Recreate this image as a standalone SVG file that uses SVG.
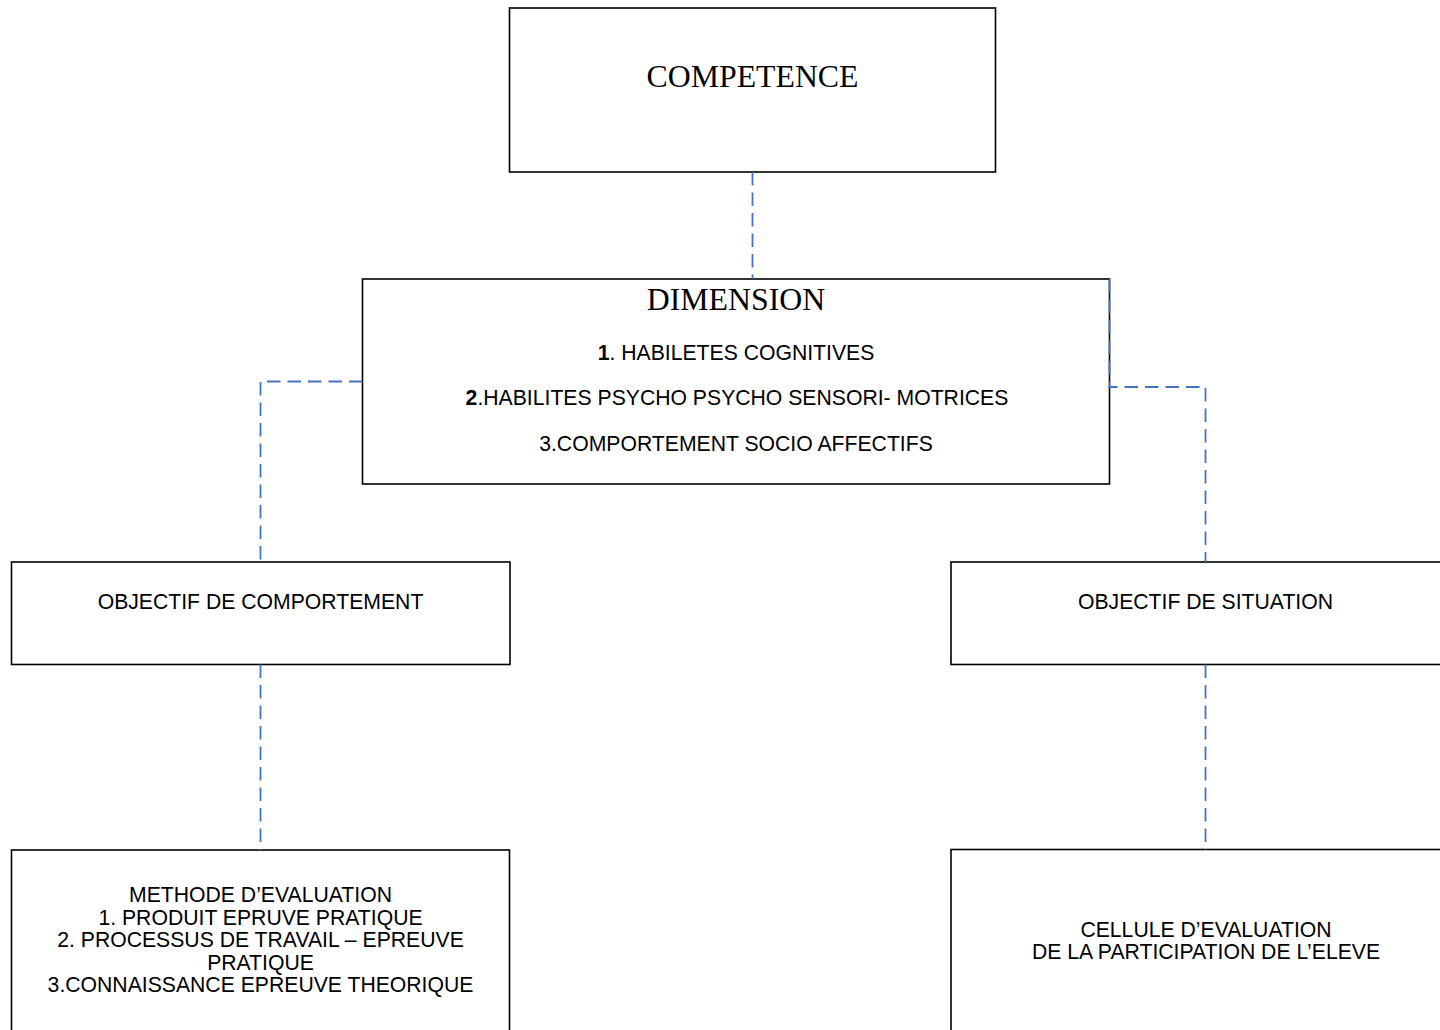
<svg xmlns="http://www.w3.org/2000/svg" width="1440" height="1030" viewBox="0 0 1440 1030">
<style>
.box{fill:#fff;stroke:#000;stroke-width:1.6}
.serif{font-family:"Liberation Serif","Times New Roman",serif;font-size:31.8px;fill:#000;text-anchor:middle}
.sans{font-family:"Liberation Sans",Arial,sans-serif;font-size:21.2px;fill:#000;text-anchor:middle}
.conn{fill:none;stroke:#4472C4;stroke-width:1.8;stroke-dasharray:13.5 7}
</style>
<rect width="1440" height="1030" fill="#fff"/>
<g id="n-competence">
<rect class="box" x="509.5" y="8" width="486" height="164"/>
<text class="serif" x="752.5" y="87">COMPETENCE</text>
</g>
<g id="n-dimension">
<rect class="box" x="362.5" y="279" width="747" height="205"/>
<text class="serif" x="736" y="309.5">DIMENSION</text>
<text class="sans" x="736" y="360"><tspan font-weight="bold">1</tspan>. HABILETES COGNITIVES</text>
<text class="sans" x="737" y="405"><tspan font-weight="bold">2</tspan>.HABILITES PSYCHO PSYCHO SENSORI- MOTRICES</text>
<text class="sans" x="736" y="451">3.COMPORTEMENT SOCIO AFFECTIFS</text>
</g>
<g id="n-obj-comportement">
<rect class="box" x="11.5" y="562" width="498.5" height="102.5"/>
<text class="sans" x="260.5" y="609">OBJECTIF DE COMPORTEMENT</text>
</g>
<g id="n-obj-situation">
<rect class="box" x="951" y="562" width="500" height="102.5"/>
<text class="sans" x="1205.5" y="608.5">OBJECTIF DE SITUATION</text>
</g>
<g id="n-methode">
<rect class="box" x="11.5" y="850" width="498" height="200"/>
<text class="sans" x="260.5" y="902">METHODE D’EVALUATION</text>
<text class="sans" x="260.5" y="924.5">1. PRODUIT EPRUVE PRATIQUE</text>
<text class="sans" x="260.5" y="947">2. PROCESSUS DE TRAVAIL – EPREUVE</text>
<text class="sans" x="260.5" y="969.5">PRATIQUE</text>
<text class="sans" x="260.5" y="992">3.CONNAISSANCE EPREUVE THEORIQUE</text>
</g>
<g id="n-cellule">
<rect class="box" x="951" y="849.5" width="500" height="200"/>
<text class="sans" x="1206" y="936.5">CELLULE D’EVALUATION</text>
<text class="sans" x="1206" y="959">DE LA PARTICIPATION DE L’ELEVE</text>
</g>
<g id="connectors">
<path class="conn" d="M752.5 172 V279"/>
<path class="conn" d="M362.5 381.5 H260.5 V562"/>
<path class="conn" d="M1109.5 279 V387 H1205.5 V562"/>
<path class="conn" d="M260.5 664.5 V850"/>
<path class="conn" d="M1205.5 664.5 V849.5"/>
</g>
</svg>
